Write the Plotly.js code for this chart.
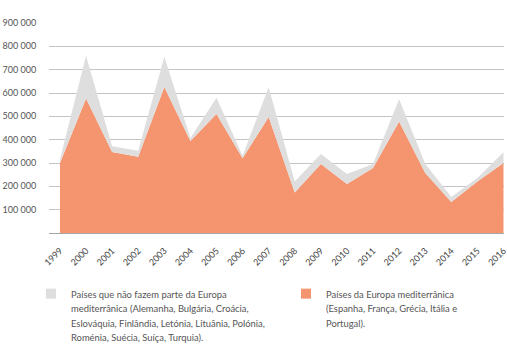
<!DOCTYPE html>
<html>
<head>
<meta charset="utf-8">
<script src="https://cdn.plot.ly/plotly-3.0.1.min.js"></script>
<style>
html,body{margin:0;padding:0;background:#fff;}
#chart{width:507px;height:351px;}
</style>
</head>
<body>
<div id="chart"></div>
<script>
// Data
var years = [1999, 2000, 2001, 2002, 2003, 2004, 2005, 2006, 2007, 2008, 2009, 2010, 2011, 2012, 2013, 2014, 2015, 2016];
var yearLabels = ["1999","2000","2001","2002","2003","2004","2005","2006","2007","2008","2009","2010","2011","2012","2013","2014","2015","2016"];
var mediterranean = [300000, 576000, 347000, 327000, 626000, 394000, 510000, 320000, 497000, 174000, 296000, 210000, 279000, 478000, 257000, 133000, 221000, 300000];
var nonMediterranean = [15000, 184000, 25000, 25000, 129000, 13000, 70000, 11000, 128000, 47000, 43000, 43000, 17000, 95000, 40000, 21000, 15000, 46000];
var yTickVals = [100000, 200000, 300000, 400000, 500000, 600000, 700000, 800000, 900000];
var yTickText = ["100 000","200 000","300 000","400 000","500 000","600 000","700 000","800 000","900 000"];
var nameNonMed = ["Países que não fazem parte da Europa", "mediterrânica (Alemanha, Bulgária, Croácia,", "Eslováquia, Finlândia, Letónia, Lituânia, Polónia,", "Roménia, Suécia, Suíça, Turquia)."];
var nameMed = ["Países da Europa mediterrânica", "(Espanha, França, Grécia, Itália e", "Portugal)."];

var colMed = "#F4956F";
var colNon = "#DEDEDE";

function legendName(lines){
  return lines.map(function(l){return '<span style="font-size:9.4px">' + l + '</span>';}).join('<br>');
}

var traces = [
  {
    type: 'scatter', x: years, y: mediterranean, stackgroup: 'one',
    mode: 'lines', line: {width: 0, color: colMed}, fillcolor: colMed,
    showlegend: false, hoverinfo: 'skip'
  },
  {
    type: 'scatter', x: years, y: nonMediterranean, stackgroup: 'one',
    mode: 'lines', line: {width: 0, color: colNon}, fillcolor: colNon,
    showlegend: false, hoverinfo: 'skip'
  },
  {
    type: 'scatter', x: [null], y: [null], mode: 'markers',
    marker: {symbol: 'square', size: 10, color: colNon},
    name: legendName(nameNonMed), showlegend: true, legend: 'legend'
  },
  {
    type: 'scatter', x: [null], y: [null], mode: 'markers',
    marker: {symbol: 'square', size: 10, color: colMed},
    name: legendName(nameMed), showlegend: true, legend: 'legend2'
  }
];

var legendBase = {
  orientation: 'h',
  xref: 'container', yref: 'container',
  xanchor: 'left', yanchor: 'top',
  y: 1 - 280/351,
  valign: 'top',
  font: {size: 11, color: '#555555'},
  bgcolor: 'rgba(0,0,0,0)'
};

var layout = {
  width: 507, height: 351,
  margin: {l: 49, r: 3, t: 23, b: 118},
  paper_bgcolor: '#ffffff', plot_bgcolor: '#ffffff',
  font: {family: 'Lato, sans-serif', color: '#555555', size: 9},
  showlegend: true,
  xaxis: {
    range: [1998.58, 2016.02],
    tickmode: 'array', tickvals: years, ticktext: yearLabels,
    tickangle: -45, tickfont: {size: 9, color: '#444444'},
    showgrid: false, zeroline: false,
    showline: true, linecolor: '#a6a6a6', linewidth: 1,
    ticks: '', ticklabelstandoff: 8, ticklabelshift: 0,
    ticklabeloverflow: 'allow'
  },
  yaxis: {
    range: [0, 900000],
    tickmode: 'array', tickvals: yTickVals, ticktext: yTickText,
    tickfont: {size: 9, color: '#555555'},
    showgrid: true, gridcolor: '#c4c4c4', gridwidth: 1,
    zeroline: false, showline: false,
    ticks: 'outside', ticklen: 10, tickcolor: 'rgba(0,0,0,0)'
  },
  legend: Object.assign({}, legendBase, {x: 31/507}),
  legend2: Object.assign({}, legendBase, {x: 286/507})
};

Plotly.newPlot('chart', traces, layout, {staticPlot: true, displayModeBar: false});
</script>
</body>
</html>
